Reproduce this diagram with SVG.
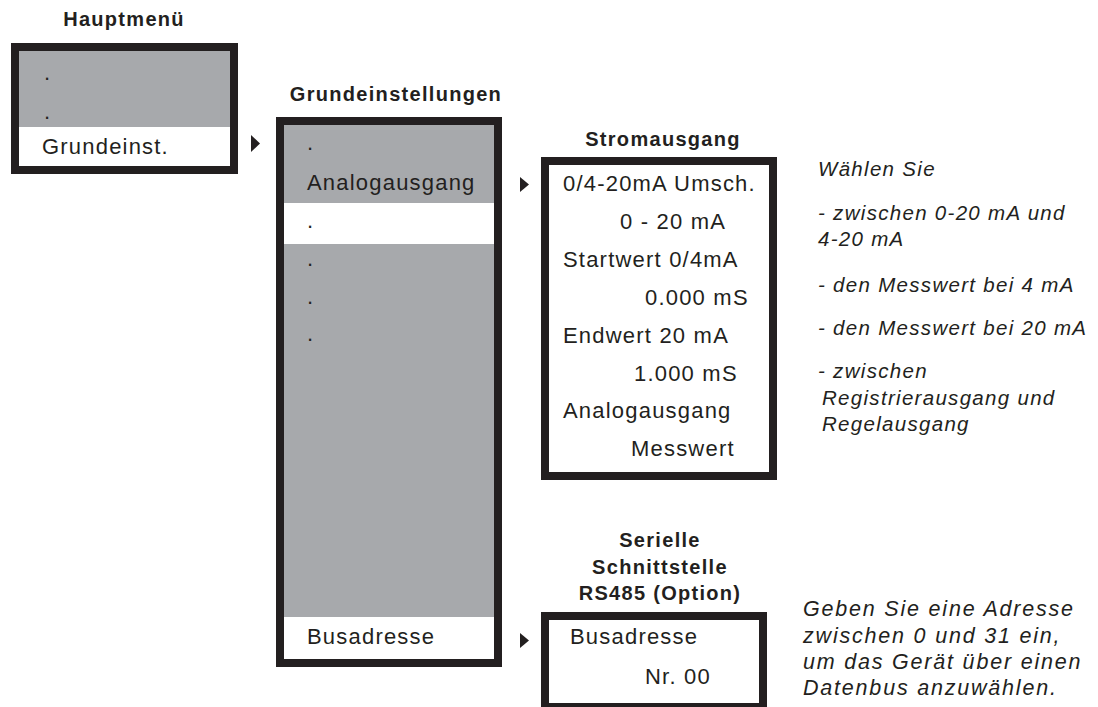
<svg xmlns="http://www.w3.org/2000/svg" width="1098" height="707" viewBox="0 0 1098 707">
<style>
.frame{fill:none;stroke:#231f20;stroke-width:8}
.gray{fill:#a7a9ac}
.white{fill:#ffffff}
.t{font-family:"Liberation Sans",Arial,sans-serif;font-size:22px;letter-spacing:1.2px;fill:#231f20}
.h{font-family:"Liberation Sans",Arial,sans-serif;font-size:20px;font-weight:bold;letter-spacing:1.3px;fill:#231f20;text-anchor:middle}
.i{font-family:"Liberation Sans",Arial,sans-serif;font-size:20.5px;font-style:italic;letter-spacing:1.3px;fill:#231f20}
.i2{font-family:"Liberation Sans",Arial,sans-serif;font-size:21.5px;font-style:italic;letter-spacing:1.8px;fill:#231f20}
.arr{fill:#231f20}
</style>
<rect width="1098" height="707" fill="#ffffff"/>

<g id="hauptmenue">
<text class="h" x="124" y="26">Hauptmenü</text>
<rect class="gray" x="19" y="51" width="211" height="76"/>
<rect class="white" x="19" y="127" width="211" height="39"/>
<rect class="frame" x="15" y="47" width="219" height="123"/>
<text class="t" x="44" y="80">.</text>
<text class="t" x="44" y="119">.</text>
<text class="t" x="42" y="154">Grundeinst.</text>
</g>

<g id="grundeinstellungen">
<text class="h" x="396" y="101">Grundeinstellungen</text>
<rect class="gray" x="284" y="125" width="210" height="534"/>
<rect class="white" x="284" y="203" width="210" height="41"/>
<rect class="white" x="284" y="617" width="210" height="42"/>
<rect class="frame" x="280" y="121" width="218" height="542"/>
<text class="t" x="307" y="150">.</text>
<text class="t" x="307" y="190">Analogausgang</text>
<text class="t" x="307" y="228">.</text>
<text class="t" x="307" y="266">.</text>
<text class="t" x="307" y="304">.</text>
<text class="t" x="307" y="341">.</text>
<text class="t" x="307" y="644">Busadresse</text>
</g>

<g id="stromausgang">
<text class="h" x="663" y="146">Stromausgang</text>
<rect class="white" x="549" y="165" width="220" height="307"/>
<rect class="frame" x="545" y="161" width="228" height="315"/>
<text class="t" x="563" y="191">0/4-20mA Umsch.</text>
<text class="t" x="620" y="229">0 - 20 mA</text>
<text class="t" x="563" y="267">Startwert 0/4mA</text>
<text class="t" x="645" y="305">0.000 mS</text>
<text class="t" x="563" y="343">Endwert 20 mA</text>
<text class="t" x="634" y="381">1.000 mS</text>
<text class="t" x="563" y="418">Analogausgang</text>
<text class="t" x="631" y="456">Messwert</text>
</g>

<g id="seriell">
<text class="h" x="660" y="547">Serielle</text>
<text class="h" x="660" y="574">Schnittstelle</text>
<text class="h" x="660" y="600">RS485 (Option)</text>
<rect class="white" x="549" y="620" width="210" height="83"/>
<rect class="frame" x="545" y="616" width="218" height="91"/>
<text class="t" x="570" y="644">Busadresse</text>
<text class="t" x="645" y="684">Nr. 00</text>
</g>

<g id="hinweis-strom">
<text class="i" x="818" y="176">Wählen Sie</text>
<text class="i" x="818" y="220">- zwischen 0-20 mA und</text>
<text class="i" x="818" y="246">4-20 mA</text>
<text class="i" x="818" y="292">- den Messwert bei 4 mA</text>
<text class="i" x="818" y="335">- den Messwert bei 20 mA</text>
<text class="i" x="818" y="378">- zwischen</text>
<text class="i" x="822" y="405">Registrierausgang und</text>
<text class="i" x="822" y="431">Regelausgang</text>
</g>

<g id="hinweis-bus">
<text class="i2" x="803" y="616">Geben Sie eine Adresse</text>
<text class="i2" x="803" y="643">zwischen 0 und 31 ein,</text>
<text class="i2" x="803" y="669">um das Gerät über einen</text>
<text class="i2" x="803" y="695">Datenbus anzuwählen.</text>
</g>

<g id="connectors">
<polygon class="arr" points="251,135 260,143.5 251,152"/>
<polygon class="arr" points="520,177 529,184.5 520,192"/>
<polygon class="arr" points="520,633 529,640.5 520,648"/>
</g>
</svg>
